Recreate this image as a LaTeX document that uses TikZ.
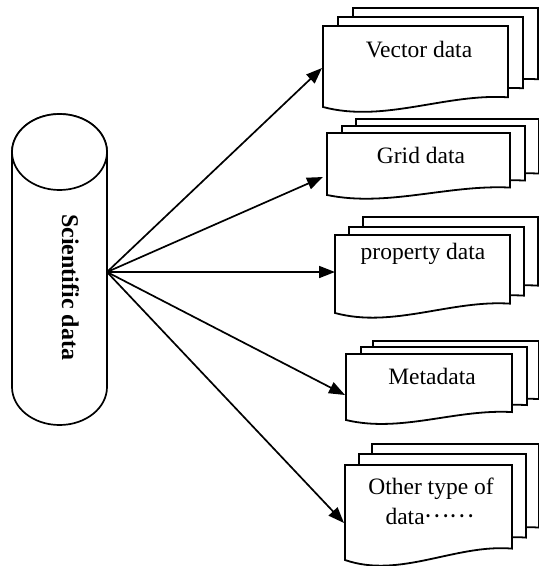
\documentclass[tikz,border=0pt]{standalone}
\usepackage{fontspec}
\setmainfont{Liberation Serif}
\newfontfamily\cjk{Noto Sans CJK SC}
\usetikzlibrary{arrows.meta}
\tikzset{
  page/.style={draw=black, fill=white, line width=1.8pt, line join=miter},
  cyl/.style={draw=black, fill=white, line width=1.7pt},
  conn/.style={draw=black, line width=1.7pt, -{Triangle[length=16pt,width=12pt]}},
  lbl/.style={font=\fontsize{23.5}{27}\selectfont, inner sep=0pt, anchor=base},
  title/.style={font=\fontsize{24}{28}\selectfont\bfseries, inner sep=0pt, anchor=base, rotate=-90}
}
% #1 L, #2 T, #3 w, #4 h
\newcommand\docpage[4]{%
  \filldraw[page] (#1,#2) -- ({#1+#3},#2) -- ({#1+#3},{#2+0.88*#4})
    .. controls ({#1+0.66*#3},{#2+0.83*#4}) and ({#1+0.33*#3},{#2+1.2*#4}) .. (#1,{#2+#4}) -- cycle;}
% #1 L #2 T #3 w #4 h, #5 #6 middle L T, #7 #8 back L T
\newcommand\docstack[8]{%
  \docpage{#7}{#8}{#3}{#4}%
  \docpage{#5}{#6}{#3}{#4}%
  \docpage{#1}{#2}{#3}{#4}}
\begin{document}
\begin{tikzpicture}[x=1pt,y=-1pt]
\useasboundingbox (0,0) rectangle (539,566);
% cylinder
\filldraw[cyl] (12,152) -- (12,387) arc[start angle=180, end angle=0, x radius=47.5, y radius=38] -- (107,152) arc[start angle=0, end angle=-180, x radius=47.5, y radius=38] -- cycle;
\draw[cyl] (59.5,152) ellipse[x radius=47.5, y radius=38];
\node[title] (sci) at (62,287) {Scientific data};
% documents
\docstack{323}{26}{185}{81}{338}{17}{353}{8}
\docstack{327}{133}{183}{62}{342}{126}{356}{119}
\docstack{335}{235}{175}{78}{349}{227}{363}{217}
\docstack{346}{354}{166}{66}{361}{347}{373}{341}
\docstack{345}{465}{167}{95}{359}{454}{372}{444}
\node[lbl] (vec) at (419,57) {Vector data};
\node[lbl] (grid) at (421,163) {Grid data};
\node[lbl] (prop) at (423,259) {property data};
\node[lbl] (meta) at (432,384) {Metadata};
\node[lbl] (oth1) at (431,494) {Other type of};
\node[lbl] (oth2) at (430,524) {data\raisebox{6.5pt}{\cjk ……}};
% connectors
\coordinate (src) at (107,272);
\coordinate (t1) at (322,68);
\coordinate (t2) at (323,177);
\coordinate (t3) at (335,272);
\coordinate (t4) at (345,395);
\coordinate (t5) at (344,523);
\foreach \t in {t1,t2,t3,t4,t5} \draw[conn] (src) -- (\t);
\end{tikzpicture}
\end{document}
